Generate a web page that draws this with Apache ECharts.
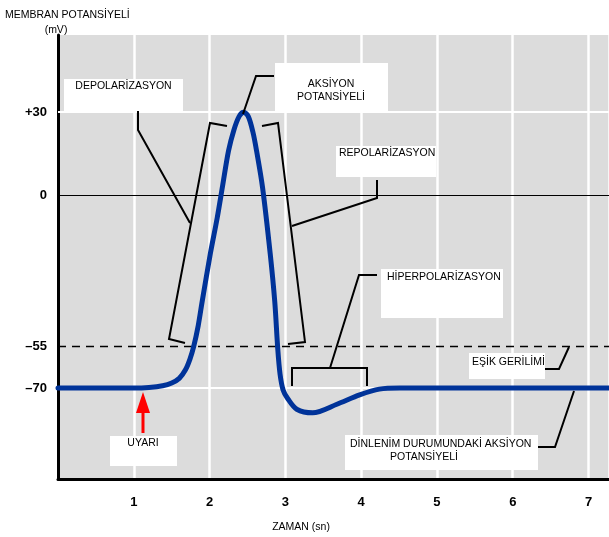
<!DOCTYPE html>
<html>
<head>
<meta charset="utf-8">
<script src="https://cdn.jsdelivr.net/npm/echarts@6/dist/echarts.min.js"></script>
<style>
html,body{margin:0;padding:0;background:#fff;}
#c{width:609px;height:537px;}
</style>
</head>
<body>
<div id="c"></div>
<script>
// ---- data ----
var timeValues = [0, 1.0, 1.2, 1.38, 1.5, 1.6, 1.68, 1.74, 1.79, 1.85, 1.90, 2.01, 2.10, 2.17, 2.25, 2.32, 2.39, 2.45,
                  2.51, 2.57, 2.62, 2.70, 2.80, 2.86, 2.90, 2.93, 2.97, 3.03, 3.15, 3.36, 3.68, 3.98, 4.24, 4.51, 5, 6, 7, 7.27];
var potentialValues = [-70, -70, -69.8, -69.2, -68.2, -66.5, -63.5, -59.6, -55, -47.4, -39, -21.3, -8.4, 3, 16, 23.5, 28.5, 30,
                       28.5, 23, 16, 2.5, -21.3, -38.7, -56, -65, -70.7, -73.8, -77.7, -79, -75.9, -72.5, -70.4, -70, -70, -70, -70, -70];
var xTickLabels = ['1', '2', '3', '4', '5', '6', '7'];
var yTickValues = [30, 0, -55, -70];
var yTickLabels = ['+30', '0', '\u201355', '\u201370'];
var thresholdValue = -55;
var restingValue = -70;
var peakValue = 30;

var curve = timeValues.map(function (t, i) { return [t, potentialValues[i]]; });

var FONT = '"Liberation Sans", Arial, sans-serif';
var chart = echarts.init(document.getElementById('c'), null, {renderer: 'canvas'});

function txt(x, y, s, align) {
  return {type: 'text', z: 110, x: x, y: y,
    style: {text: s, font: '10.5px ' + FONT, fill: '#000', align: align || 'left', verticalAlign: 'middle', lineHeight: 13}};
}
function box(x, y, w, h) {
  return {type: 'rect', z: 105, shape: {x: x, y: y, width: w, height: h}, style: {fill: '#fff'}};
}
function pl(pts, w, color) {
  return {type: 'polyline', z: 108, shape: {points: pts}, style: {stroke: color || '#000', lineWidth: w || 2, fill: null}};
}

var option = {
  backgroundColor: '#fff',
  animation: false,
  grid: {left: 58, right: 0, top: 35, bottom: 58, show: true, backgroundColor: '#dcdcdc', borderWidth: 0},
  xAxis: {
    type: 'value', min: 0, max: 7.27, interval: 1,
    axisLine: {show: true, onZero: false, lineStyle: {color: '#000', width: 3}},
    axisTick: {show: false},
    splitLine: {show: true, lineStyle: {color: '#ffffff', width: 2.5}},
    axisLabel: {
      show: true, margin: 17, color: '#000', fontFamily: FONT, fontWeight: 'bold', fontSize: 13,
      showMinLabel: false, showMaxLabel: false,
      formatter: function (v) { var i = Math.round(v); return (i >= 1 && i <= 7) ? xTickLabels[i - 1] : ''; }
    }
  },
  yAxis: {
    type: 'value', min: -103, max: 58,
    axisLine: {show: true, onZero: false, lineStyle: {color: '#000', width: 3}},
    axisTick: {show: false},
    splitLine: {show: false},
    axisLabel: {
      show: true, margin: 11, color: '#000', fontFamily: FONT, fontWeight: 'bold', fontSize: 13,
      customValues: yTickValues,
      formatter: function (v) { var i = yTickValues.indexOf(v); return i >= 0 ? yTickLabels[i] : ''; }
    }
  },
  series: [
    {
      type: 'line', z: 1, data: [], silent: true,
      markLine: {
        silent: true, symbol: 'none', label: {show: false},
        data: [
          {yAxis: peakValue, lineStyle: {color: '#fff', width: 2, type: 'solid'}},
          {yAxis: restingValue, lineStyle: {color: '#fff', width: 2, type: 'solid'}},
          {yAxis: 0, lineStyle: {color: '#000', width: 1.2, type: 'solid'}},
          {yAxis: thresholdValue, lineStyle: {color: '#000', width: 1.3, type: [8, 6]}}
        ]
      }
    },
    {
      type: 'line', z: 5, data: curve, showSymbol: false, symbol: 'none',
      smooth: 0.3,
      lineStyle: {color: '#003399', width: 5, cap: 'round', join: 'round'}
    }
  ],
  graphic: [
    {type: 'text', z: 110, x: 5, y: 15, style: {text: 'MEMBRAN POTANS\u0130YEL\u0130', font: '10.5px ' + FONT, fill: '#000', align: 'left', verticalAlign: 'middle'}},
    {type: 'text', z: 110, x: 56, y: 30, style: {text: '(mV)', font: '10.5px ' + FONT, fill: '#000', align: 'center', verticalAlign: 'middle'}},
    {type: 'text', z: 110, x: 301, y: 527, style: {text: 'ZAMAN (sn)', font: '10.5px ' + FONT, fill: '#000', align: 'center', verticalAlign: 'middle'}},

    pl([[138, 111], [138, 130], [190, 223]]),
    pl([[227, 126], [210, 123], [169, 339], [185, 343]]),
    pl([[243, 114], [256, 76], [274, 76]]),
    pl([[262, 126], [278, 123], [305, 342], [288, 344]]),
    pl([[292, 226], [377, 198], [377, 180]]),
    pl([[377, 275], [359, 275], [330, 368]]),
    pl([[292, 386], [292, 368], [367, 368], [367, 386]]),
    pl([[545, 369], [559, 369], [569, 347]]),
    pl([[538, 447], [555, 447], [574, 391]]),

    pl([[143, 433], [143, 410]], 3, '#ff0000'),
    {type: 'polygon', z: 108, shape: {points: [[143, 392], [136, 413], [150, 413]]}, style: {fill: '#ff0000'}},

    box(64, 79, 119, 32), txt(123.5, 86, 'DEPOLAR\u0130ZASYON', 'center'),
    box(275, 63, 113, 50), txt(331, 91, 'AKS\u0130YON\nPOTANS\u0130YEL\u0130', 'center'),
    box(336, 146, 100, 31), txt(339, 153, 'REPOLAR\u0130ZASYON', 'left'),
    box(381, 269, 122, 49), txt(387, 277, 'H\u0130PERPOLAR\u0130ZASYON', 'left'),
    box(469, 353, 76, 26), txt(472, 362, 'E\u015e\u0130K GER\u0130L\u0130M\u0130', 'left'),
    box(345, 435, 193, 35), txt(350, 444, 'D\u0130NLEN\u0130M DURUMUNDAK\u0130 AKS\u0130YON', 'left'),
    txt(424, 457, 'POTANS\u0130YEL\u0130', 'center'),
    box(110, 436, 67, 30), txt(143, 443, 'UYARI', 'center')
  ]
};
chart.setOption(option);
</script>
</body>
</html>
